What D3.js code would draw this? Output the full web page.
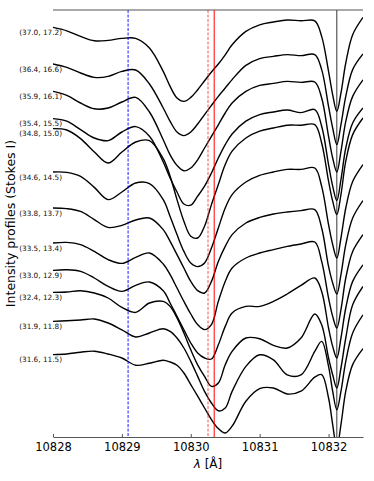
<!DOCTYPE html>
<html>
<head>
<meta charset="utf-8">
<script src="https://cdn.jsdelivr.net/npm/d3@7"></script>
<style>
  body { margin: 0; background: #fff; }
  svg { display: block; font-family: "DejaVu Sans", sans-serif; }
</style>
</head>
<body>
<div id="chart"></div>
<script>
// Wavelength grid (Angstrom)
const wavelengths = [10828.0, 10828.2, 10828.4, 10828.6, 10828.8, 10829.0, 10829.2, 10829.4,
  10829.6, 10829.7, 10829.8, 10829.9, 10830.0, 10830.1, 10830.2, 10830.3, 10830.4, 10830.5,
  10830.6, 10830.8, 10831.0, 10831.2, 10831.4, 10831.6, 10831.8, 10831.9, 10832.0, 10832.06,
  10832.12, 10832.18, 10832.25, 10832.35, 10832.5];

// Position labels of each profile (top to bottom)
const labels = ['(37.0, 17.2)', '(36.4, 16.6)', '(35.9, 16.1)', '(35.4, 15.5)', '(34.8, 15.0)',
  '(34.6, 14.5)', '(33.8, 13.7)', '(33.5, 13.4)', '(33.0, 12.9)', '(32.4, 12.3)',
  '(31.9, 11.8)', '(31.6, 11.5)'];

// Vertical offset added to each profile
const shifts = [2.048, 1.865, 1.728, 1.592, 1.542, 1.325, 1.145, 0.970, 0.833, 0.723, 0.578, 0.412];

// Normalised Stokes I profiles
const profiles = [
  [1.000, 0.983, 0.955, 0.933, 0.935, 0.945, 0.945, 0.897, 0.780, 0.705, 0.647, 0.630, 0.650, 0.688, 0.733, 0.777, 0.817, 0.863, 0.913, 0.980, 1.013, 1.027, 1.037, 1.033, 1.033, 0.955, 0.780, 0.663, 0.580, 0.672, 0.822, 0.963, 1.050],
  [1.000, 0.983, 0.955, 0.933, 0.938, 0.963, 0.970, 0.900, 0.780, 0.713, 0.660, 0.642, 0.660, 0.700, 0.747, 0.793, 0.838, 0.880, 0.922, 0.993, 1.027, 1.038, 1.047, 1.042, 1.047, 0.972, 0.788, 0.680, 0.597, 0.697, 0.838, 0.972, 1.050],
  [1.000, 0.980, 0.942, 0.913, 0.917, 0.947, 0.970, 0.897, 0.758, 0.683, 0.630, 0.603, 0.617, 0.658, 0.717, 0.775, 0.833, 0.892, 0.942, 1.000, 1.030, 1.040, 1.050, 1.045, 1.047, 0.967, 0.775, 0.667, 0.597, 0.700, 0.850, 0.975, 1.058],
  [1.000, 0.987, 0.945, 0.903, 0.890, 0.933, 0.960, 0.912, 0.783, 0.703, 0.633, 0.573, 0.567, 0.612, 0.662, 0.728, 0.803, 0.870, 0.923, 0.987, 1.020, 1.033, 1.043, 1.030, 1.045, 0.962, 0.770, 0.662, 0.590, 0.695, 0.853, 0.978, 1.053],
  [1.000, 0.993, 0.950, 0.883, 0.828, 0.883, 0.933, 0.940, 0.850, 0.762, 0.645, 0.537, 0.462, 0.453, 0.512, 0.620, 0.720, 0.820, 0.887, 0.953, 0.987, 1.003, 1.017, 1.017, 1.020, 0.928, 0.737, 0.637, 0.570, 0.670, 0.837, 0.970, 1.053],
  [1.000, 0.998, 0.978, 0.923, 0.862, 0.900, 0.945, 0.942, 0.862, 0.778, 0.687, 0.603, 0.545, 0.527, 0.545, 0.620, 0.720, 0.820, 0.887, 0.950, 0.983, 1.000, 1.013, 1.013, 1.020, 0.928, 0.737, 0.637, 0.570, 0.670, 0.820, 0.953, 1.037],
  [1.000, 0.997, 0.983, 0.942, 0.903, 0.913, 0.940, 0.950, 0.892, 0.833, 0.767, 0.700, 0.633, 0.587, 0.575, 0.633, 0.733, 0.808, 0.867, 0.925, 0.953, 0.970, 0.980, 0.987, 0.992, 0.900, 0.708, 0.625, 0.570, 0.667, 0.817, 0.950, 1.037],
  [1.000, 1.003, 0.992, 0.958, 0.917, 0.898, 0.928, 0.950, 0.895, 0.842, 0.775, 0.708, 0.645, 0.592, 0.567, 0.592, 0.708, 0.808, 0.875, 0.925, 0.950, 0.967, 0.983, 0.995, 1.005, 0.908, 0.725, 0.633, 0.575, 0.667, 0.825, 0.958, 1.042],
  [1.000, 1.003, 0.995, 0.962, 0.920, 0.895, 0.925, 0.942, 0.898, 0.837, 0.770, 0.703, 0.637, 0.587, 0.562, 0.557, 0.628, 0.720, 0.787, 0.820, 0.820, 0.845, 0.882, 0.925, 0.962, 0.895, 0.712, 0.620, 0.562, 0.662, 0.812, 0.945, 1.028],
  [1.000, 1.002, 1.008, 0.997, 0.972, 0.925, 0.900, 0.947, 0.955, 0.930, 0.872, 0.797, 0.713, 0.638, 0.580, 0.530, 0.547, 0.638, 0.705, 0.772, 0.768, 0.735, 0.722, 0.772, 0.892, 0.838, 0.672, 0.588, 0.522, 0.622, 0.772, 0.938, 1.030],
  [1.000, 1.003, 1.007, 1.012, 0.992, 0.958, 0.922, 0.942, 0.963, 0.950, 0.917, 0.867, 0.800, 0.725, 0.650, 0.592, 0.553, 0.567, 0.650, 0.775, 0.833, 0.808, 0.733, 0.733, 0.850, 0.900, 0.775, 0.650, 0.558, 0.650, 0.800, 0.942, 1.033],
  [1.000, 1.003, 1.012, 1.017, 1.003, 0.983, 0.947, 0.957, 0.972, 0.963, 0.947, 0.908, 0.850, 0.792, 0.733, 0.675, 0.630, 0.608, 0.642, 0.767, 0.830, 0.833, 0.803, 0.817, 0.887, 0.900, 0.783, 0.650, 0.533, 0.650, 0.817, 0.950, 1.030]
];

// Reference line centres: He I blue, He I red (two), telluric
const lineCenters = [10829.09, 10830.25, 10830.34, 10832.12];

// Tick labels on the wavelength axis
const tickValues = [10828, 10829, 10830, 10831, 10832];

// Define dimensions
const width = 374;
const height = 481;
const margin = { top: 10, right: 11, bottom: 44, left: 53 };

const svg = d3.select('#chart')
  .append('svg')
  .attr('width', width)
  .attr('height', height);

// Scales
const x = d3.scaleLinear()
  .domain([10828, 10832.5])
  .range([margin.left, width - margin.right]);

const y = d3.scaleLinear()
  .domain([1, 3.135])
  .range([height - margin.bottom, margin.top]);

// Clip to the plot area
svg.append('clipPath')
  .attr('id', 'clip')
  .append('rect')
  .attr('x', margin.left)
  .attr('y', margin.top)
  .attr('width', width - margin.left - margin.right)
  .attr('height', height - margin.top - margin.bottom);

const plot = svg.append('g').attr('clip-path', 'url(#clip)');

// Profiles
const line = d3.line()
  .x((d, i) => x(wavelengths[i]))
  .y(d => y(d))
  .curve(d3.curveCatmullRom.alpha(0.5));

plot.selectAll('path.profile')
  .data(profiles.map((p, k) => p.map(v => v + shifts[k])))
  .enter()
  .append('path')
  .attr('class', 'profile')
  .attr('d', line)
  .attr('fill', 'none')
  .attr('stroke', '#000')
  .attr('stroke-width', 1.4);

// Vertical reference lines
const lineStyles = [
  { color: '#0000ff', dash: '3,1.5', w: 0.9 },
  { color: '#ff4040', dash: '3,1.5', w: 0.9 },
  { color: '#ff0000', dash: null, w: 1.0 },
  { color: '#000000', dash: null, w: 0.8 }
];

plot.selectAll('line.marker')
  .data(lineCenters)
  .enter()
  .append('line')
  .attr('class', 'marker')
  .attr('x1', d => x(d))
  .attr('x2', d => x(d))
  .attr('y1', margin.top)
  .attr('y2', height - margin.bottom)
  .attr('stroke', (d, i) => lineStyles[i].color)
  .attr('stroke-width', (d, i) => lineStyles[i].w)
  .attr('stroke-dasharray', (d, i) => lineStyles[i].dash);

// Profile labels
svg.selectAll('text.label')
  .data(labels)
  .enter()
  .append('text')
  .attr('class', 'label')
  .attr('x', 62)
  .attr('y', (d, i) => y(1 + shifts[i]) + 7.5)
  .attr('text-anchor', 'end')
  .attr('font-size', 7.3)
  .attr('fill', '#111')
  .text(d => d);

// Top spine
svg.append('line')
  .attr('x1', margin.left)
  .attr('x2', width - margin.right)
  .attr('y1', margin.top)
  .attr('y2', margin.top)
  .attr('stroke', '#555')
  .attr('stroke-width', 1);

// Bottom axis
const xAxis = svg.append('g')
  .attr('transform', `translate(0,${height - margin.bottom})`)
  .call(d3.axisBottom(x).tickValues(tickValues).tickFormat(d3.format('d')).tickSizeInner(-3).tickSizeOuter(0).tickPadding(6));

xAxis.select('.domain').attr('stroke', '#555');
xAxis.selectAll('.tick line').attr('stroke', '#555');
xAxis.selectAll('.tick text')
  .attr('font-family', '"DejaVu Sans", sans-serif')
  .attr('font-size', 11.5)
  .attr('fill', '#000');

// Axis titles
const xTitle = svg.append('text')
  .attr('x', x(10830.25))
  .attr('y', 468)
  .attr('text-anchor', 'middle')
  .attr('font-size', 12);
xTitle.append('tspan').attr('font-style', 'italic').text('λ');
xTitle.append('tspan').text(' [Å]');

svg.append('text')
  .attr('transform', `translate(15,${(margin.top + height - margin.bottom) / 2}) rotate(-90)`)
  .attr('text-anchor', 'middle')
  .attr('font-size', 12.5)
  .text('Intensity profiles (Stokes I)');
</script>
</body>
</html>
